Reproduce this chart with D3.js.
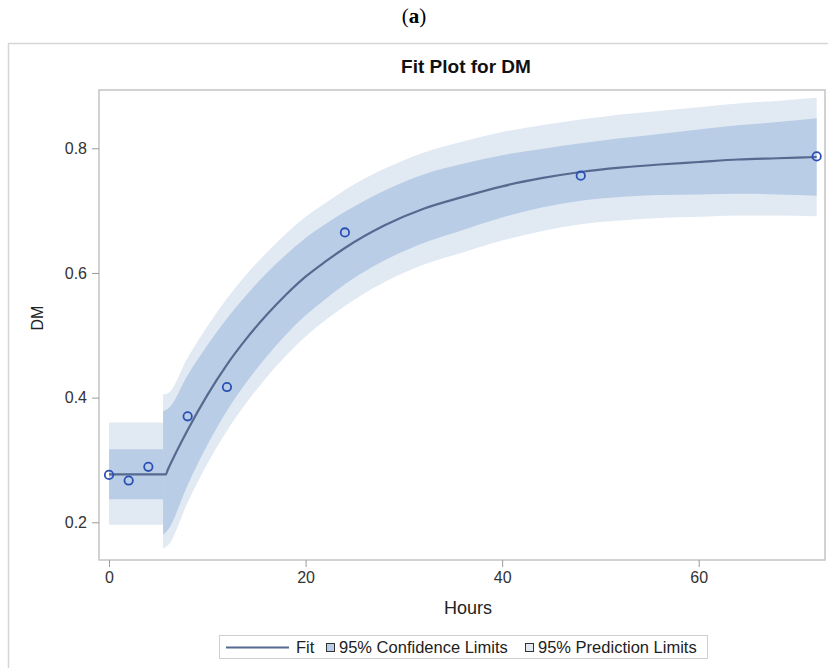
<!DOCTYPE html>
<html>
<head>
<meta charset="utf-8">
<script src="https://cdn.jsdelivr.net/npm/d3@7"></script>
<style>
  body { margin: 0; background: #fff; }
  text { font-family: Arial, "Liberation Sans", sans-serif; }
</style>
</head>
<body>
<div id="chart-area"></div>
<script>
// observed points
var obsHours = [0, 2, 4, 8, 12, 24, 48, 72];
var obsDM = [0.276, 0.267, 0.289, 0.370, 0.417, 0.665, 0.756, 0.787];

// lag part (flat) of the fit and bands
var lagHours = [0, 5.5];
var lagFit = [0.277, 0.277];
var lagConfLo = [0.237, 0.237];
var lagConfHi = [0.317, 0.317];
var lagPredLo = [0.196, 0.196];
var lagPredHi = [0.360, 0.360];

// rising part
var fitHours = [5.5, 6, 8, 10, 12, 14, 16, 18, 20, 22, 24, 28, 32, 36, 40, 44, 48, 52, 56, 60, 64, 68, 72];
var fitDM    = [0.277, 0.285, 0.348, 0.404, 0.453, 0.495, 0.532, 0.565, 0.594, 0.618, 0.640, 0.676, 0.703, 0.722, 0.739, 0.752, 0.762, 0.769, 0.774, 0.778, 0.782, 0.784, 0.786];
var confLo   = [0.180, 0.188, 0.260, 0.324, 0.379, 0.425, 0.465, 0.501, 0.532, 0.558, 0.582, 0.620, 0.648, 0.669, 0.689, 0.705, 0.716, 0.722, 0.725, 0.726, 0.727, 0.726, 0.724];
var confHi   = [0.378, 0.382, 0.436, 0.484, 0.527, 0.565, 0.599, 0.629, 0.656, 0.678, 0.698, 0.732, 0.758, 0.775, 0.789, 0.799, 0.808, 0.816, 0.823, 0.830, 0.837, 0.842, 0.848];
var predLo   = [0.158, 0.163, 0.232, 0.294, 0.347, 0.392, 0.432, 0.467, 0.498, 0.524, 0.547, 0.585, 0.613, 0.633, 0.652, 0.667, 0.678, 0.684, 0.688, 0.690, 0.692, 0.692, 0.691];
var predHi   = [0.405, 0.407, 0.464, 0.514, 0.559, 0.598, 0.632, 0.663, 0.690, 0.712, 0.733, 0.767, 0.793, 0.811, 0.826, 0.837, 0.846, 0.854, 0.860, 0.866, 0.872, 0.876, 0.881];

var xTicks = [0, 20, 40, 60];
var yTicks = [0.2, 0.4, 0.6, 0.8];

var svg_width = 828;
var svg_height = 668;
var plotLeft = 99, plotRight = 825, plotTop = 90, plotBottom = 560;

var confColor = "#b9cde6";
var predColor = "#e1e9f3";
var fitColor = "#56698f";
var dotColor = "#2a50b4";
var frameColor = "#c4c4c4";

var svg = d3.select("#chart-area").append("svg")
    .attr("width", svg_width)
    .attr("height", svg_height);

var x = d3.scaleLinear().domain([-1.02, 72.85]).range([plotLeft, plotRight]);
var y = d3.scaleLinear().domain([0.1395, 0.8935]).range([plotBottom, plotTop]);

// outer frame
svg.append("rect")
    .attr("x", 8.5).attr("y", 43.5)
    .attr("width", 830).attr("height", 640)
    .attr("fill", "none").attr("stroke", "#d6d6d6").attr("stroke-width", 1.5);

svg.append("text")
    .attr("x", 414).attr("y", 23)
    .attr("text-anchor", "middle")
    .style("font-family", "'Liberation Serif', 'DejaVu Serif', serif")
    .style("font-size", "21px")
    .html("(<tspan font-weight='bold'>a</tspan>)");

svg.append("text")
    .attr("x", 466).attr("y", 73)
    .attr("text-anchor", "middle")
    .style("font-size", "19px").style("font-weight", "bold")
    .attr("fill", "#111")
    .text("Fit Plot for DM");

var g = svg.append("g");

function band(hours, lo, hi, color, curve) {
    var area = d3.area()
        .x((d)=>{ return x(d); })
        .y0((d, i)=>{ return y(lo[i]); })
        .y1((d, i)=>{ return y(hi[i]); })
        .curve(curve);
    g.append("path").datum(hours)
        .attr("d", area)
        .attr("fill", color);
}

band(lagHours, lagPredLo, lagPredHi, predColor, d3.curveLinear);
band(fitHours, predLo, predHi, predColor, d3.curveMonotoneX);
band(lagHours, lagConfLo, lagConfHi, confColor, d3.curveLinear);
band(fitHours, confLo, confHi, confColor, d3.curveMonotoneX);

// fit: flat until the lag, then the rising curve
var kinkHour = 5.77;
var lineHours = [0, kinkHour].concat(fitHours.slice(1));
var lineDM = [lagFit[0], lagFit[1]].concat(fitDM.slice(1));

g.append("path").datum(lineHours)
    .attr("d", d3.line()
        .x((d)=>{ return x(d); })
        .y((d, i)=>{ return y(lineDM[i]); })
        .curve(d3.curveMonotoneX))
    .attr("fill", "none").attr("stroke", fitColor).attr("stroke-width", 2.2);

g.selectAll("circle").data(obsHours).enter()
    .append("circle")
    .attr("cx", (d)=>{ return x(d); })
    .attr("cy", (d, i)=>{ return y(obsDM[i]); })
    .attr("r", 4.2)
    .attr("fill", "none")
    .attr("stroke", dotColor)
    .attr("stroke-width", 1.8);

// plot frame
svg.append("rect")
    .attr("x", plotLeft).attr("y", plotTop)
    .attr("width", plotRight - plotLeft).attr("height", plotBottom - plotTop)
    .attr("fill", "none").attr("stroke", frameColor).attr("stroke-width", 1.5);

var xAxis = svg.append("g")
    .attr("transform", "translate(0," + plotBottom + ")")
    .call(d3.axisBottom(x).tickValues(xTicks).tickSize(7).tickPadding(5).tickFormat(d3.format("d")));
var yAxis = svg.append("g")
    .attr("transform", "translate(" + plotLeft + ",0)")
    .call(d3.axisLeft(y).tickValues(yTicks).tickSize(7).tickPadding(5).tickFormat(d3.format(".1f")));

[xAxis, yAxis].forEach((a)=>{
    a.select(".domain").remove();
    a.selectAll(".tick line").attr("stroke", "#9a9a9a");
    a.selectAll(".tick text")
        .attr("fill", "#333")
        .style("font-size", "16px")
        .style("font-family", "Arial, 'Liberation Sans', sans-serif");
});

svg.append("text")
    .attr("x", 468).attr("y", 614)
    .attr("text-anchor", "middle")
    .style("font-size", "18px").attr("fill", "#222")
    .text("Hours");

svg.append("text")
    .attr("transform", "translate(43,318) rotate(-90)")
    .attr("text-anchor", "middle")
    .style("font-size", "16px").attr("fill", "#222")
    .text("DM");

// legend
var lg = svg.append("g");
lg.append("rect")
    .attr("x", 219.5).attr("y", 635.5)
    .attr("width", 488).attr("height", 23)
    .attr("fill", "#fff").attr("stroke", "#cfcfcf");
lg.append("line")
    .attr("x1", 226).attr("x2", 289).attr("y1", 647.5).attr("y2", 647.5)
    .attr("stroke", fitColor).attr("stroke-width", 2.2);

var legItems = ["Fit", "95% Confidence Limits", "95% Prediction Limits"];
var legX = [296, 339, 538];
var legSwatch = [null, confColor, predColor];
var legSwX = [null, 326, 525];

legItems.forEach((t, i)=>{
    if (legSwatch[i]) {
        lg.append("rect")
            .attr("x", legSwX[i] + 0.5).attr("y", 643.5)
            .attr("width", 8).attr("height", 8)
            .attr("fill", legSwatch[i]).attr("stroke", "#333").attr("stroke-width", 1);
    }
    lg.append("text")
        .attr("x", legX[i]).attr("y", 653)
        .style("font-size", "16.5px").attr("fill", "#222")
        .text(t);
});
</script>
</body>
</html>
